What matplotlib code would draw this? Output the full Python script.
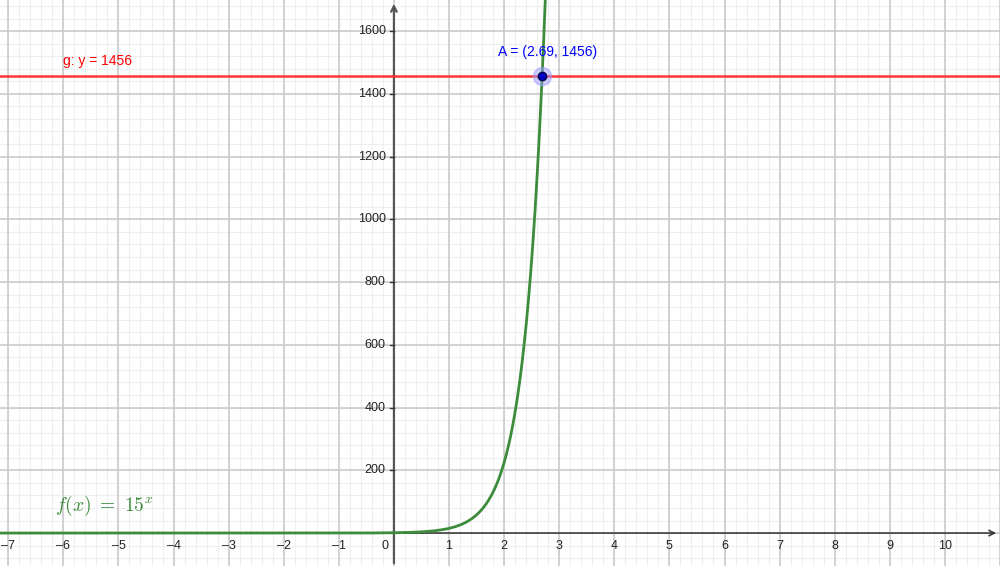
import matplotlib.pyplot as plt
import numpy as np

plt.rcParams['mathtext.fontset'] = 'cm'
plt.rcParams['font.family'] = ['Liberation Sans', 'DejaVu Sans']

# Data
base = 15
g_y = 1456
A_x, A_y = 2.69, 1456
x_ticks = [-7, -6, -5, -4, -3, -2, -1, 1, 2, 3, 4, 5, 6, 7, 8, 9, 10]
y_ticks = [200, 400, 600, 800, 1000, 1200, 1400, 1600]

xmin, xmax = -7.15, 11.0
ymin, ymax = -105, 1699

fig = plt.figure(figsize=(10, 5.66), dpi=100)
ax = fig.add_axes([0, 0, 1, 1])
ax.set_xlim(xmin, xmax)
ax.set_ylim(ymin, ymax)
ax.axis('off')

# grid
for xv in np.arange(-7.2, 11.01, 0.2):
    ax.axvline(xv, color='#efefef', lw=0.8, zorder=0)
for yv in np.arange(-80, 1710, 40):
    ax.axhline(yv, color='#efefef', lw=0.8, zorder=0)
for xv in range(-7, 12):
    ax.axvline(xv, color='#c8c8c8', lw=1.1, zorder=1)
for yv in range(0, 1800, 200):
    ax.axhline(yv, color='#c8c8c8', lw=1.1, zorder=1)

# axes with arrows
ax.annotate('', xy=(xmax - 0.02, 0), xytext=(xmin, 0),
            arrowprops=dict(arrowstyle='->', color='#333333', lw=1.1), zorder=3)
ax.annotate('', xy=(0, ymax - 3), xytext=(0, ymin),
            arrowprops=dict(arrowstyle='->', color='#555555', lw=1.6), zorder=3)

# tick labels
for t in x_ticks:
    ax.annotate(str(t).replace('-', '\u2013'), (t, 0), xytext=(0, -5),
                textcoords='offset points', ha='center', va='top',
                fontsize=9, color='#222222')
ax.annotate('0', (0, 0), xytext=(-4, -5), textcoords='offset points',
            ha='right', va='top', fontsize=9, color='#222222')
for t in y_ticks:
    ax.plot([-0.08, 0], [t, t], color='#333333', lw=1, zorder=3)
    ax.annotate(str(t), (0, t), xytext=(-6, 0), textcoords='offset points',
                ha='right', va='center', fontsize=9, color='#222222')

# function
xs = np.linspace(xmin, 2.78, 1500)
ax.plot(xs, base ** xs, color='#3c8c3c', lw=2, zorder=4)
ax.text(-6.15, 70, r'$f(x)\ =\ 15^x$', color='#3c8c3c', fontsize=14, zorder=5)

# horizontal line
ax.axhline(g_y, color='#ff2020', lw=1.8, alpha=0.9, zorder=4)
ax.text(-6.0, g_y + 35, 'g: y = 1456', color='#ff0000', fontsize=10, zorder=5)

# point A
ax.plot(A_x, A_y, 'o', ms=13, color='#9999ff', alpha=0.5, zorder=5)
ax.plot(A_x, A_y, 'o', ms=6, color='#0000cc', mec='#000044', zorder=6)
ax.text(A_x + 0.1, A_y + 65, 'A = (2.69, 1456)', color='#0000ff', fontsize=10,
        ha='center', zorder=6)

plt.savefig('out.png')
